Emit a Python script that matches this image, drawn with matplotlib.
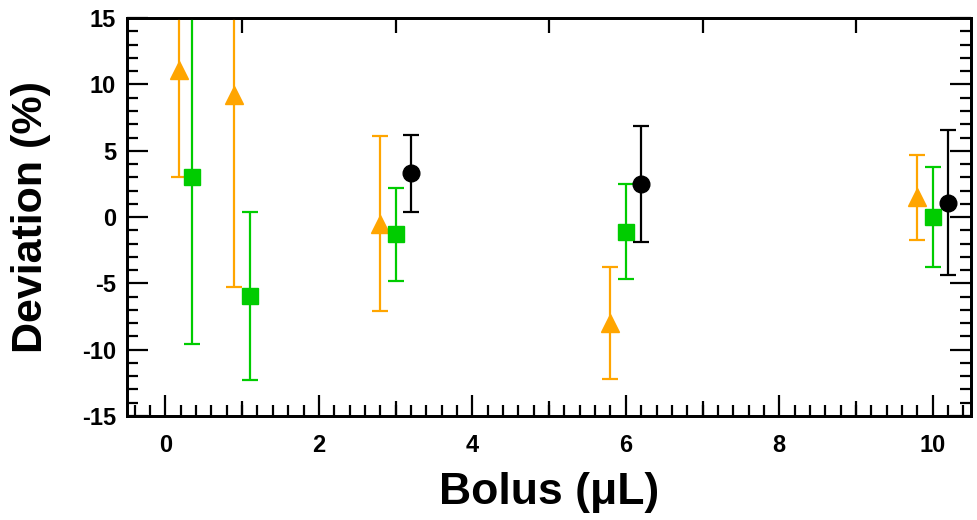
import matplotlib
matplotlib.use('Agg')
import matplotlib.pyplot as plt
from matplotlib.ticker import MultipleLocator, FixedLocator, NullFormatter

plt.rcParams['font.family'] = ['Liberation Sans Narrow', 'Liberation Sans', 'DejaVu Sans']
plt.rcParams['font.weight'] = 'bold'
plt.rcParams['axes.unicode_minus'] = False

# three series: bolus (uL), deviation (%), symmetric error (%)
tri_x = [0.18, 0.9, 2.8, 5.8, 9.8]
tri_y = [11.1, 9.2, -0.5, -8.0, 1.5]
tri_err = [8.1, 14.5, 6.6, 4.2, 3.2]

sq_x = [0.35, 1.1, 3.0, 6.0, 10.0]
sq_y = [3.0, -5.95, -1.3, -1.1, 0.0]
sq_err = [12.6, 6.35, 3.5, 3.6, 3.8]

dot_x = [3.2, 6.2, 10.2]
dot_y = [3.3, 2.5, 1.1]
dot_err = [2.9, 4.4, 5.5]

orange = '#FFA500'
green = '#00CC00'

fig = plt.figure(figsize=(9.77, 5.2), dpi=100)
ax = fig.add_axes([0.130, 0.200, 0.864, 0.765])

common = dict(linestyle='none', capsize=6, elinewidth=1.6, capthick=1.6)
ax.errorbar(tri_x, tri_y, yerr=tri_err, marker='^', markersize=13.5,
            color=orange, zorder=3, **common)
ax.errorbar(sq_x, sq_y, yerr=sq_err, marker='s', markersize=12,
            color=green, zorder=4, **common)
ax.errorbar(dot_x, dot_y, yerr=dot_err, marker='o', markersize=12,
            color='black', zorder=5, **common)

ax.set_xlim(-0.5, 10.5)
ax.set_ylim(-15, 15)

ax.xaxis.set_major_locator(MultipleLocator(2))
ax.xaxis.set_minor_locator(MultipleLocator(0.2))
ax.yaxis.set_major_locator(MultipleLocator(5))
ax.yaxis.set_minor_locator(MultipleLocator(1))

ax.tick_params(which='both', direction='in', top=True, right=True, width=1.6)
ax.tick_params(which='major', length=15, labelsize=17)
ax.tick_params(axis='x', which='major', pad=13)
ax.tick_params(axis='y', which='major', pad=8)
ax.tick_params(which='minor', length=8)
for lab in ax.get_xticklabels() + ax.get_yticklabels():
    lab.set_fontweight('bold')

# medium ticks at odd x values
ax2 = ax.twiny()
ax2.set_xlim(ax.get_xlim())
ax2.xaxis.set_major_locator(FixedLocator([1, 3, 5, 7, 9]))
ax2.xaxis.set_major_formatter(NullFormatter())
ax2.xaxis.set_ticks_position('both')
ax2.tick_params(which='major', direction='in', length=11, width=1.6)
ax2.xaxis.set_minor_locator(FixedLocator([]))

for a in (ax, ax2):
    for spine in a.spines.values():
        spine.set_linewidth(2)

ax.set_xlabel('Bolus (\u03bcL)', fontsize=32, fontweight='bold', labelpad=11)
ax.set_ylabel('Deviation (%)', fontsize=31, fontweight='bold', labelpad=22)

plt.savefig('out.png', dpi=100)
